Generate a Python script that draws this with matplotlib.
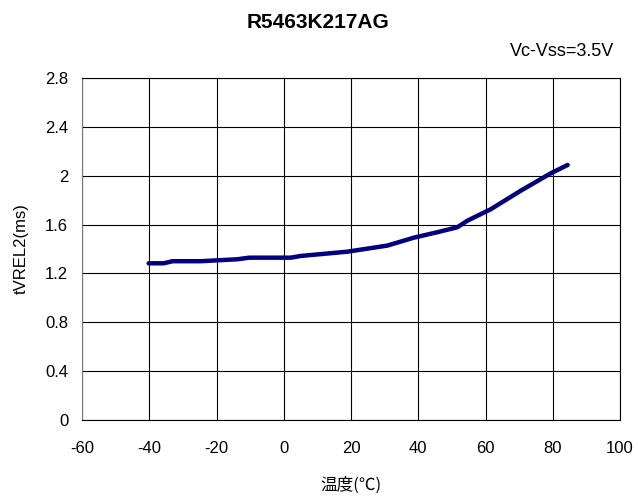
import matplotlib
matplotlib.use("Agg")
import matplotlib.pyplot as plt

plt.rcParams['font.family'] = ['Liberation Sans', 'Noto Sans CJK JP', 'DejaVu Sans']
plt.rcParams['axes.unicode_minus'] = False

temp = [-40.2, -35.7, -33.1, -24.7, -13.8, -10.3, 2.1, 5.0, 18.9, 30.8, 38.7, 45.6, 51.6, 54.6, 61.5, 70.5, 79.4, 84.4]
trel = [1.283, 1.283, 1.30, 1.30, 1.316, 1.329, 1.329, 1.343, 1.378, 1.428, 1.493, 1.537, 1.578, 1.632, 1.725, 1.878, 2.02, 2.088]
xticks = [-60, -40, -20, 0, 20, 40, 60, 80, 100]
yticks = [0, 0.4, 0.8, 1.2, 1.6, 2, 2.4, 2.8]
ytick_labels = ['0', '0.4', '0.8', '1.2', '1.6', '2', '2.4', '2.8']

fig = plt.figure(figsize=(6.36, 5.0), dpi=100)
ax = fig.add_axes([0.129, 0.16, 0.846, 0.684])
ax.plot(temp, trel, color='#000080', linewidth=3.2, solid_capstyle='round')
ax.set_xlim(-60, 100)
ax.set_ylim(0, 2.8)
ax.set_xticks(xticks)
ax.set_yticks(yticks)
ax.set_yticklabels(ytick_labels)
ax.grid(True, color='black', linewidth=0.8)
ax.set_axisbelow(True)
for s in ax.spines.values():
    s.set_color('black')
    s.set_linewidth(0.8)
ax.spines['left'].set_color('#777777')
ax.tick_params(axis='x', length=0, labelsize=12, pad=15)
ax.tick_params(axis='y', length=0, labelsize=12, pad=10)
ax.set_ylabel('tVREL2(ms)', fontsize=12, labelpad=12)
ax.set_xlabel('温度(℃)', fontsize=12, family=['Noto Sans CJK JP', 'DejaVu Sans'], labelpad=15)
fig.text(0.5, 0.955, 'R5463K217AG', ha='center', va='center', fontsize=15, fontweight='bold')
fig.text(0.966, 0.898, 'Vc-Vss=3.5V', ha='right', va='center', fontsize=13)
fig.savefig('out.png', dpi=100)
